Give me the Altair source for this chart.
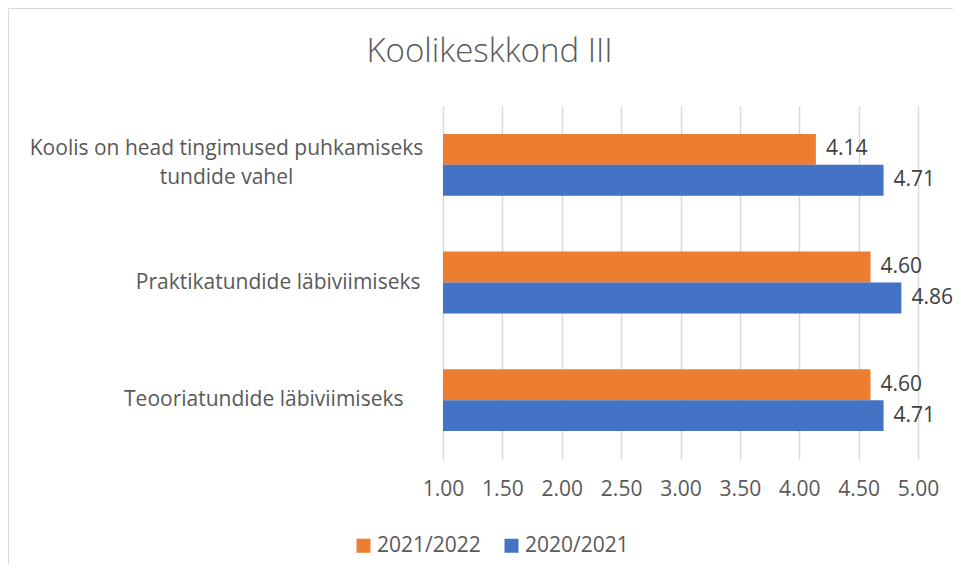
import altair as alt
import pandas as pd

categories = [
    "Koolis on head tingimused puhkamiseks|tundide vahel",
    "Praktikatundide läbiviimiseks",
    "Teooriatundide läbiviimiseks",
]
series = ["2021/2022", "2020/2021"]
values_2021_2022 = [4.14, 4.60, 4.60]
values_2020_2021 = [4.71, 4.86, 4.71]
x_ticks = [1.0, 1.5, 2.0, 2.5, 3.0, 3.5, 4.0, 4.5, 5.0]
colors = ["#ED7D31", "#4472C4"]
title_text = "Koolikeskkond III"

rows = []
for c, a, b in zip(categories, values_2021_2022, values_2020_2021):
    rows.append({"cat": c, "series": series[0], "value": a})
    rows.append({"cat": c, "series": series[1], "value": b})
df = pd.DataFrame(rows)

FONT = "Open Sans"
GRAY = "#595959"
FS = 21
W, H = 475, 353

is_multi = "indexof(datum.value, '|') >= 0"
is_teo = "indexof(datum.value, 'Teooria') == 0"

base = alt.Chart(df)

y_enc = alt.Y(
    "cat:N",
    sort=categories,
    scale=alt.Scale(paddingInner=0, paddingOuter=0),
    axis=alt.Axis(
        title=None, ticks=False, tickSize=0, domain=False,
        labelExpr="split(datum.value, '|')",
        labelAlign={"condition": {"test": is_multi, "value": "center"}, "value": "right"},
        labelPadding={
            "condition": [
                {"test": is_multi, "value": 217},
                {"test": is_teo, "value": 40},
            ],
            "value": 23,
        },
        labelOffset={"condition": {"test": is_multi, "value": -16}, "value": 0},
        labelFontSize=FS, labelColor=GRAY, labelFont=FONT,
        labelLineHeight=29, labelLimit=0,
    ),
)
yoff_enc = alt.YOffset(
    "series:N", sort=series, scale=alt.Scale(paddingInner=0, paddingOuter=0.903)
)
x_enc = alt.X(
    "value:Q",
    scale=alt.Scale(domain=[1, 5], nice=False, zero=False),
    axis=alt.Axis(
        values=x_ticks, format=".2f", title=None, grid=True, gridColor="#d9d9d9",
        gridWidth=1.5, ticks=False, domain=False, labelPadding=19, labelFontSize=FS,
        labelColor=GRAY, labelFont=FONT, labelFlush=False, labelOverlap=False,
    ),
)

bars = base.mark_bar().encode(
    x=x_enc,
    x2=alt.datum(1),
    y=y_enc,
    yOffset=yoff_enc,
    color=alt.Color(
        "series:N",
        sort=series,
        scale=alt.Scale(domain=series, range=colors),
        legend=alt.Legend(
            title=None, orient="none", legendX=-90, legendY=429, direction="horizontal",
            symbolType="square", symbolSize=196, symbolStrokeWidth=0, labelFontSize=FS,
            labelColor=GRAY, labelFont=FONT, columnPadding=20, labelOffset=3, padding=0,
        ),
    ),
)

labels = base.mark_text(
    align="left", baseline="middle", dx=10, fontSize=FS, font=FONT, color="#404040"
).encode(
    x="value:Q",
    y=alt.Y("cat:N", sort=categories),
    yOffset=alt.YOffset("series:N", sort=series),
    text=alt.Text("value:Q", format=".2f"),
)

one = alt.Chart(pd.DataFrame({"t": [title_text]}))

border = one.mark_rect(fillOpacity=0, stroke="#d9d9d9", strokeWidth=1).encode(
    x=alt.value(-434.5), x2=alt.value(700), y=alt.value(-97.5), y2=alt.value(700)
)

title = one.mark_text(
    align="center", baseline="alphabetic", fontSize=33, font=FONT, fontWeight=300,
    color=GRAY,
).encode(x=alt.value(46.5), y=alt.value(-44), text="t:N")

chart = alt.layer(border, title, bars, labels).properties(
    width=W,
    height=H,
    padding={"left": 435, "top": 98, "right": 945 - 435 - W, "bottom": 556 - 98 - H},
    autosize=alt.AutoSizeParams(type="none"),
).configure_view(strokeWidth=0)

chart.save("out.html", embed_options={"renderer": "svg", "actions": False})
